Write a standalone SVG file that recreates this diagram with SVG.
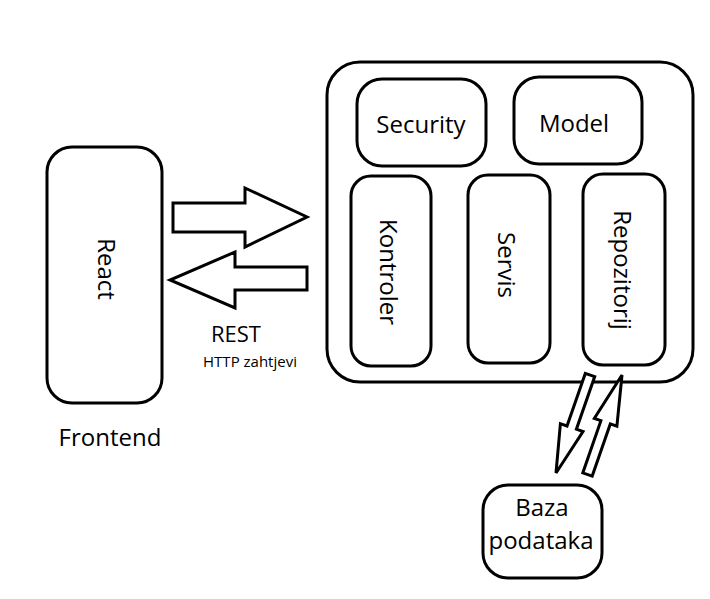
<svg xmlns="http://www.w3.org/2000/svg" width="710" height="599" viewBox="0 0 710 599">
<style>
.box{fill:#fff;stroke:#000;stroke-width:3}
.arr{fill:#fff;stroke:#000;stroke-width:3;stroke-linejoin:miter}
.t{font-family:"Open Sans","Noto Sans","DejaVu Sans",sans-serif;font-size:24px;fill:#000;text-anchor:middle;dominant-baseline:central}
.r{font-size:22px}
.s{font-size:15px}
</style>
<rect width="710" height="599" fill="#fff"/>
<g id="backend">
<rect class="box" x="327" y="62" width="366" height="320" rx="33"/>
</g>
<g id="security">
<rect class="box" x="357" y="79" width="129" height="87" rx="25"/>
<text class="t" x="421" y="123">Security</text>
</g>
<g id="model">
<rect class="box" x="514" y="77" width="128" height="87" rx="25"/>
<text class="t" x="574" y="122">Model</text>
</g>
<g id="kontroler">
<rect class="box" x="351" y="176" width="80" height="190" rx="20"/>
<text class="t" transform="translate(389 272) rotate(90)">Kontroler</text>
</g>
<g id="servis">
<rect class="box" x="468" y="175" width="82" height="188" rx="20"/>
<text class="t" transform="translate(507 265) rotate(90)">Servis</text>
</g>
<g id="repozitorij">
<rect class="box" x="583" y="174" width="82" height="191" rx="20"/>
<text class="t" transform="translate(623 270) rotate(90)">Repozitorij</text>
</g>
<g id="react">
<rect class="box" x="47" y="147" width="115" height="256" rx="25"/>
<text class="t" transform="translate(107 269) rotate(90)">React</text>
</g>
<g id="baza">
<rect class="box" x="483" y="485" width="119" height="93" rx="25"/>
<text class="t" x="542" y="506">Baza</text>
<text class="t" x="541" y="539">podataka</text>
</g>
<g id="connectors">
<polygon class="arr" points="173,203 245,203 245,188 307,217 245,247 245,232 173,232"/>
<polygon class="arr" points="307,267 235,267 235,252 170,280 235,308 235,290 307,290"/>
<polygon class="arr" points="585.3,373.4 594.7,376.6 576.4,429.2 583,431.5 556,473 560.4,423.7 567,426"/>
<polygon class="arr" points="582.8,472.9 592.2,476.1 610.3,423.9 616.9,426.2 622,375 594.3,418.4 600.9,420.7"/>
</g>
<g id="labels">
<text class="t r" x="236" y="333">REST</text>
<text class="t s" x="250" y="361">HTTP zahtjevi</text>
<text class="t" x="110" y="436">Frontend</text>
</g>
</svg>
